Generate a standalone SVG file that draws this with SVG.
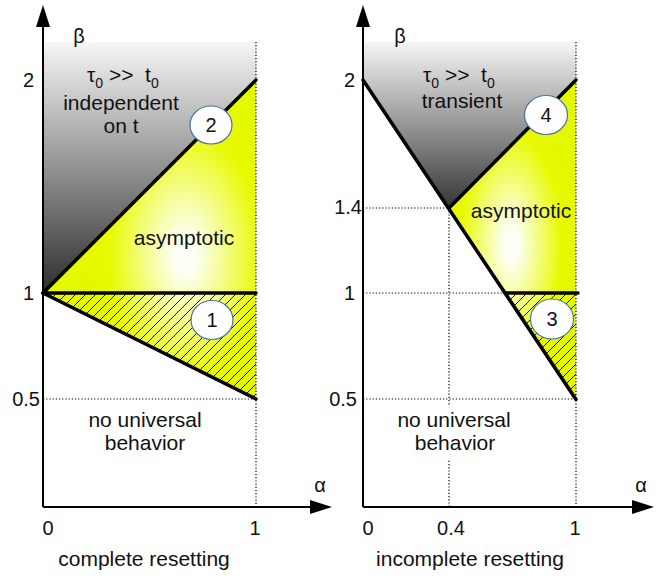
<svg xmlns="http://www.w3.org/2000/svg" width="661" height="580" viewBox="0 0 661 580">
<style>
text{font-family:"Liberation Sans",Arial,sans-serif;fill:#111;white-space:pre}
.lbl{font-size:21px;text-anchor:middle}
.tick{font-size:20px}
.end{text-anchor:end}
.mid{text-anchor:middle}
.axis{stroke:#000;stroke-width:2;fill:none}
.thick{stroke:#000;stroke-width:3.5;fill:none;stroke-linecap:round}
.dot{stroke:#000;stroke-width:1.2;stroke-dasharray:1.2 2;fill:none}
.num{fill:#fff;stroke:#4a72a8;stroke-width:1.2}
.numt{font-size:20px;text-anchor:middle}
</style>
<defs>
<linearGradient id="greyL" gradientUnits="userSpaceOnUse" x1="0" y1="42" x2="0" y2="293">
<stop offset="0" stop-color="#f6f6f6"/><stop offset="1" stop-color="#2e2e2e"/>
</linearGradient>
<linearGradient id="greyR" gradientUnits="userSpaceOnUse" x1="0" y1="42" x2="0" y2="210">
<stop offset="0" stop-color="#f6f6f6"/><stop offset="1" stop-color="#333333"/>
</linearGradient>
<radialGradient id="yelL" gradientUnits="userSpaceOnUse" cx="185" cy="255" r="170" gradientTransform="translate(185,255) scale(0.6,1) translate(-185,-255)">
<stop offset="0" stop-color="#ffffff"/><stop offset="0.12" stop-color="#fdfff0"/><stop offset="0.75" stop-color="#e8fa00"/><stop offset="1" stop-color="#e4f800"/>
</radialGradient>
<radialGradient id="yelR" gradientUnits="userSpaceOnUse" cx="511" cy="245" r="150" gradientTransform="translate(511,245) scale(0.45,1) translate(-511,-245)">
<stop offset="0" stop-color="#ffffff"/><stop offset="0.12" stop-color="#fdfff0"/><stop offset="0.75" stop-color="#e8fa00"/><stop offset="1" stop-color="#e4f800"/>
</radialGradient>
<pattern id="hatch" patternUnits="userSpaceOnUse" width="10" height="10">
<path d="M0,10 L10,0 M-2,2 L2,-2 M8,12 L12,8" stroke="#000" stroke-width="0.9"/>
</pattern>
<marker id="arr" markerUnits="userSpaceOnUse" markerWidth="22" markerHeight="14" refX="18" refY="7" orient="auto" viewBox="0 0 22 14">
<path d="M0,0 L22,7 L0,14 z" fill="#000"/>
</marker>
</defs>

<g id="panel-complete">
<g id="regions-left">
<polygon points="43,42 256,42 256,80 43,293" fill="url(#greyL)"/>
<polygon points="43,293 256,80 256,293" fill="url(#yelL)"/>
<polygon points="43,293 256,293 256,399" fill="url(#yelL)"/>
<polygon points="43,293 256,293 256,399" fill="url(#hatch)"/>
</g>
<g id="guides-left">
<line class="dot" x1="256" y1="42" x2="256" y2="507"/>
<line class="dot" x1="43" y1="399" x2="256" y2="399"/>
</g>
<g id="boundaries-left">
<line class="thick" x1="43" y1="293" x2="256" y2="80"/>
<line class="thick" x1="43" y1="293" x2="256" y2="293"/>
<line class="thick" x1="43" y1="293" x2="256" y2="399"/>
</g>
<g id="axes-left">
<line class="axis" x1="43" y1="507" x2="43" y2="9" marker-end="url(#arr)"/>
<line class="axis" x1="43" y1="507" x2="328" y2="507" marker-end="url(#arr)"/>
</g>
<g id="node-2">
<ellipse class="num" cx="211" cy="125" rx="21" ry="19"/>
<text class="numt" x="211" y="132">2</text>
</g>
<g id="node-1">
<ellipse class="num" cx="212" cy="320" rx="21" ry="19.5"/>
<text class="numt" x="212" y="327">1</text>
</g>
<g id="labels-left">
<text style="font-size:20px" x="79" y="43" text-anchor="middle">β</text>
<text style="font-size:21px" x="87" y="82">τ<tspan style="font-size:14px" dy="6">0</tspan><tspan dy="-6"> &gt;&gt;  t</tspan><tspan style="font-size:14px" dy="6">0</tspan></text>
<text class="lbl" x="121" y="110">independent</text>
<text class="lbl" x="121" y="133">on t</text>
<text class="lbl" x="184" y="245">asymptotic</text>
<text class="lbl" x="145" y="427">no universal</text>
<text class="lbl" x="145" y="450">behavior</text>
<text class="tick end" x="34" y="87">2</text>
<text class="tick end" x="34" y="300">1</text>
<text class="tick end" x="40" y="406">0.5</text>
<text class="tick mid" x="48" y="535">0</text>
<text class="tick mid" x="255" y="535">1</text>
<text style="font-size:20px" x="320" y="492" text-anchor="middle">α</text>
<text class="lbl" x="144" y="566">complete resetting</text>
</g>
</g>

<g id="panel-incomplete">
<g id="regions-right">
<polygon points="363,42 576,42 576,80 449,208 363,80" fill="url(#greyR)"/>
<polygon points="449,208 576,80 576,293 505,293" fill="url(#yelR)"/>
<polygon points="505,293 576,293 576,399" fill="url(#yelR)"/>
<polygon points="505,293 576,293 576,399" fill="url(#hatch)"/>
</g>
<g id="guides-right">
<line class="dot" x1="576" y1="42" x2="576" y2="507"/>
<line class="dot" x1="449" y1="208" x2="449" y2="507"/>
<line class="dot" x1="363" y1="208" x2="449" y2="208"/>
<line class="dot" x1="363" y1="293" x2="505" y2="293"/>
<line class="dot" x1="363" y1="399" x2="576" y2="399"/>
<rect x="396" y="406" width="116" height="54" fill="#fff"/>
</g>
<g id="boundaries-right">
<line class="thick" x1="363" y1="80" x2="576" y2="399.5"/>
<line class="thick" x1="449" y1="208" x2="576" y2="80"/>
<line class="thick" x1="505" y1="293" x2="578" y2="293"/>
</g>
<g id="axes-right">
<line class="axis" x1="363" y1="507" x2="363" y2="9" marker-end="url(#arr)"/>
<line class="axis" x1="363" y1="507" x2="650" y2="507" marker-end="url(#arr)"/>
</g>
<g id="node-4">
<ellipse class="num" cx="546" cy="115" rx="21.5" ry="19.5"/>
<text class="numt" x="546" y="122">4</text>
</g>
<g id="node-3">
<ellipse class="num" cx="552" cy="319" rx="21.5" ry="20"/>
<text class="numt" x="552" y="326">3</text>
</g>
<g id="labels-right">
<text style="font-size:20px" x="400" y="43" text-anchor="middle">β</text>
<text style="font-size:21px" x="423" y="82">τ<tspan style="font-size:14px" dy="6">0</tspan><tspan dy="-6"> &gt;&gt;  t</tspan><tspan style="font-size:14px" dy="6">0</tspan></text>
<text class="lbl" x="462" y="108">transient</text>
<text class="lbl" x="521" y="218">asymptotic</text>
<text class="lbl" x="454" y="427">no universal</text>
<text class="lbl" x="455" y="450">behavior</text>
<text class="tick end" x="355" y="87">2</text>
<text class="tick end" x="362" y="214">1.4</text>
<text class="tick end" x="355" y="300">1</text>
<text class="tick end" x="357" y="406">0.5</text>
<text class="tick mid" x="368" y="535">0</text>
<text class="tick mid" x="451" y="535">0.4</text>
<text class="tick mid" x="575" y="535">1</text>
<text style="font-size:20px" x="641" y="492" text-anchor="middle">α</text>
<text class="lbl" x="470" y="566">incomplete resetting</text>
</g>
</g>
</svg>
